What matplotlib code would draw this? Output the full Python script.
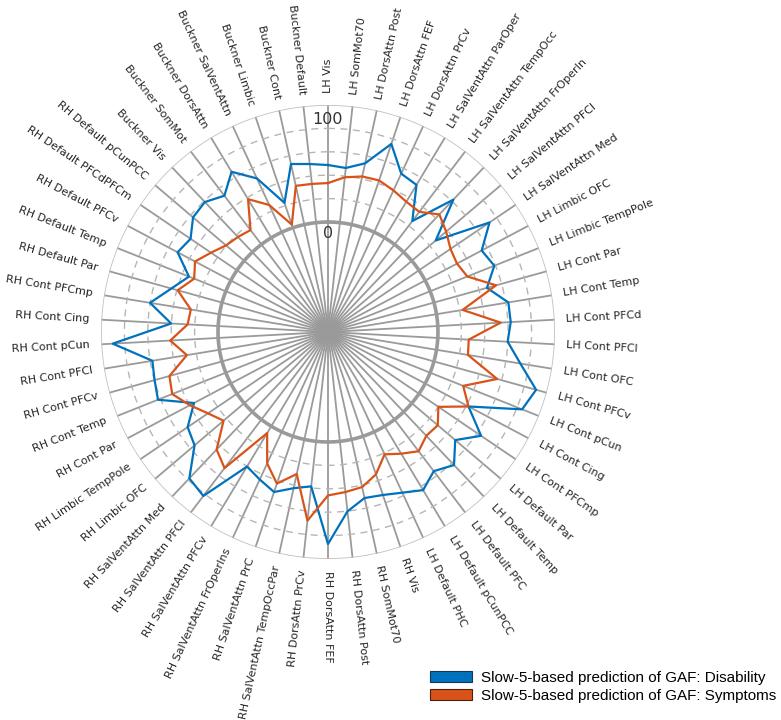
import numpy as np
import matplotlib
matplotlib.use("Agg")
import matplotlib.pyplot as plt
from matplotlib.patches import Patch

########## Categories (clockwise from top)
labels = [
    "LH Vis", "LH SomMot70", "LH DorsAttn Post", "LH DorsAttn FEF", "LH DorsAttn PrCv",
    "LH SalVentAttn ParOper", "LH SalVentAttn TempOcc", "LH SalVentAttn FrOperIn",
    "LH SalVentAttn PFCl", "LH SalVentAttn Med", "LH Limbic OFC", "LH Limbic TempPole",
    "LH Cont Par", "LH Cont Temp", "LH Cont PFCd", "LH Cont PFCl", "LH Cont OFC",
    "LH Cont PFCv", "LH Cont pCun", "LH Cont Cing", "LH Cont PFCmp", "LH Default Par",
    "LH Default Temp", "LH Default PFC", "LH Default pCunPCC", "LH Default PHC",
    "RH Vis", "RH SomMot70", "RH DorsAttn Post", "RH DorsAttn FEF", "RH DorsAttn PrCv",
    "RH SalVentAttn TempOccPar", "RH SalVentAttn PrC", "RH SalVentAttn FrOperIns",
    "RH SalVentAttn PFCv", "RH SalVentAttn PFCl", "RH SalVentAttn Med", "RH Limbic OFC",
    "RH Limbic TempPole", "RH Cont Par", "RH Cont Temp", "RH Cont PFCv", "RH Cont PFCl",
    "RH Cont pCun", "RH Cont Cing", "RH Cont PFCmp", "RH Default Par", "RH Default Temp",
    "RH Default PFCv", "RH Default PFCdPFCm", "RH Default pCunPCC", "Buckner Vis",
    "Buckner SomMot", "Buckner DorsAttn", "Buckner SalVentAttn", "Buckner Limbic",
    "Buckner Cont", "Buckner Default",
]

########## Values
disability = [
    48.7, 47.0, 53.6, 75.6, 55.1, 52.7, 25.1, 61.8, 26.8, 72.8,
    54.7, 59.0, 47.0, 62.2, 62.4, 59.8, 72.6, 90.6, 84.6, 41.9,
    64.1, 48.7, 62.6, 55.4, 63.7, 57.3, 53.0, 51.3, 60.2, 87.2,
    38.7, 42.7, 50.3, 44.9, 40.2, 82.0, 78.3, 55.6, 50.9, 35.6,
    62.4, 59.8, 58.1, 90.2, 40.2, 60.1, 44.9, 33.9, 51.5, 47.9,
    57.3, 59.0, 52.3, 65.8, 50.6, 22.4, 53.0, 50.4,
]
symptoms = [
    33.3, 39.0, 42.1, 42.7, 39.3, 35.9, 35.0, 44.4, 38.5, 32.5,
    30.8, 34.2, 55.1, 22.6, 53.8, 26.5, 27.2, 56.1, 30.4, 41.9,
    20.0, 29.1, 28.2, 34.0, 27.4, 21.2, 34.4, 41.7, 43.6, 45.7,
    68.2, 30.3, 42.7, 29.8, 6.8, 52.1, 44.4, 23.1, 29.9, 39.6,
    49.3, 46.6, 28.2, 41.0, 26.1, 24.8, 39.3, 29.1, 34.6, 26.8,
    20.3, 17.9, 15.4, 38.5, 25.6, 2.8, 33.9, 33.3,
]
series_names = ["Slow-5-based prediction of GAF: Disability",
                "Slow-5-based prediction of GAF: Symptoms"]

r_min, r_max = -94, 100
ring_vals = [20, 40, 60, 80]

blue = "#0072BD"
orange = "#D95319"
grid_col = "#9a9a9a"

n = len(labels)
theta = np.arange(n) * 2 * np.pi / n

fig = plt.figure(figsize=(7.81, 7.2), dpi=100)
fig.set_facecolor("w")
ax = fig.add_axes([0.1293, 0.2236, 0.5813, 0.6306], projection="polar")
ax.set_theta_zero_location("N")
ax.set_theta_direction(-1)
ax.set_ylim(r_min, r_max)
ax.grid(False)
ax.set_xticks([])
ax.set_yticks([])
ax.spines["polar"].set_visible(False)

full = np.linspace(0, 2 * np.pi, 400)

# spokes
for t in theta:
    ax.plot([t, t], [r_min, r_max], color=grid_col, lw=1.3, zorder=1)

# rings
for rv in ring_vals:
    ax.plot(full, np.full_like(full, rv), color="#b5b5b5", lw=1.0, ls=(0, (5, 4)), zorder=1)
ax.plot(full, np.zeros_like(full), color=grid_col, lw=2.6, zorder=1)
ax.plot(full, np.full_like(full, r_max), color="#c0c0c0", lw=1.2, zorder=1)

# data
tt = np.append(theta, theta[0])
ax.plot(tt, np.append(disability, disability[0]), color=blue, lw=1.6, zorder=3)
ax.plot(tt, np.append(symptoms, symptoms[0]), color=orange, lw=1.6, zorder=3)

# axis labels
ax.text(0, 88, "100", ha="center", va="center", fontsize=11.5, color="#333333", zorder=4)
ax.text(0, -9.5, "0", ha="center", va="center", fontsize=11.5, color="#333333", zorder=4)

# category labels
for t, lab in zip(theta, labels):
    deg = np.degrees(t)
    if deg <= 180.01:
        rot, ha = 90 - deg, "left"
    else:
        rot, ha = 270 - deg, "right"
    ax.text(t, 110, lab, rotation=rot, rotation_mode="anchor", ha=ha, va="center",
            fontsize=8, color="#262626", family="DejaVu Sans")

handles = [Patch(facecolor=blue, edgecolor="#1a3550", lw=0.8),
           Patch(facecolor=orange, edgecolor="#4a2010", lw=0.8)]
fig.legend(handles, series_names, loc="upper left", bbox_to_anchor=(430 / 781, 1 - 671 / 720),
           frameon=False, borderpad=0, borderaxespad=0, handlelength=2.75, handleheight=0.7,
           handletextpad=0.6, labelspacing=0.25, prop={"family": "Liberation Sans", "size": 11})

plt.savefig("out.png", format="png")
